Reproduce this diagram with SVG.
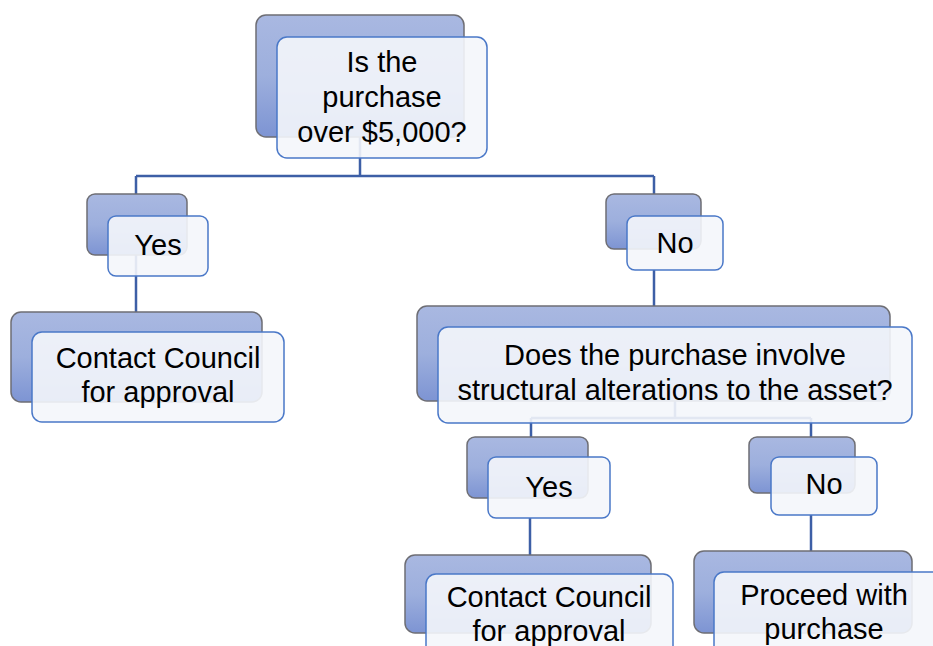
<svg xmlns="http://www.w3.org/2000/svg" width="933" height="646" viewBox="0 0 933 646">
<defs>
<linearGradient id="bg" x1="0" y1="0" x2="0" y2="1">
<stop offset="0" stop-color="#a9b8e1"/>
<stop offset="0.5" stop-color="#9dafdd"/>
<stop offset="1" stop-color="#7d94d3"/>
</linearGradient>
</defs>
<style>
.back{fill:url(#bg);stroke:#6e6e74;stroke-width:1.5}
.front{fill:#f4f6fb;fill-opacity:0.9;stroke:#4a78c8;stroke-width:1.5}
.conn{fill:none;stroke:#3d5fa6;stroke-width:2.5}
text{font-family:"Liberation Sans",Arial,sans-serif;font-size:29px;fill:#000;text-anchor:middle}
</style>
<rect width="933" height="646" fill="#ffffff"/>
<g id="connectors">
<path class="conn" d="M360,137 V176 M136,176 H654 M136,176 V195 M654,176 V195"/>
<path class="conn" d="M136,255 V313"/>
<path class="conn" d="M654,270 V306"/>
<path class="conn" d="M675,401 V418 M531,418 H811 M531,418 V438 M811,418 V438"/>
<path class="conn" d="M530,518 V556"/>
<path class="conn" d="M811,515 V552"/>
</g>
<g id="q1">
<rect class="back" x="256" y="15" width="208" height="122" rx="10"/>
<rect class="front" x="277" y="37" width="210" height="121" rx="10"/>
<text x="382" y="72">Is the</text>
<text x="382" y="107">purchase</text>
<text x="382" y="142">over $5,000?</text>
</g>
<g id="yes1">
<rect class="back" x="87" y="194" width="100" height="61" rx="8"/>
<rect class="front" x="108" y="216" width="100" height="60" rx="8"/>
<text x="158" y="255">Yes</text>
</g>
<g id="contact1">
<rect class="back" x="11" y="312" width="251" height="90" rx="10"/>
<rect class="front" x="32" y="332" width="252" height="90" rx="10"/>
<text x="158" y="368">Contact Council</text>
<text x="158" y="402">for approval</text>
</g>
<g id="no1">
<rect class="back" x="606" y="194" width="95" height="55" rx="8"/>
<rect class="front" x="627" y="216" width="96" height="54" rx="8"/>
<text x="675" y="253">No</text>
</g>
<g id="q2">
<rect class="back" x="417" y="306" width="473" height="95" rx="10"/>
<rect class="front" x="438" y="327" width="474" height="96" rx="10"/>
<text x="675" y="365">Does the purchase involve</text>
<text x="675" y="400">structural alterations to the asset?</text>
</g>
<g id="yes2">
<rect class="back" x="467" y="437" width="121" height="61" rx="8"/>
<rect class="front" x="488" y="457" width="122" height="61" rx="8"/>
<text x="549" y="497">Yes</text>
</g>
<g id="no2">
<rect class="back" x="749" y="437" width="106" height="56" rx="8"/>
<rect class="front" x="771" y="457" width="106" height="58" rx="8"/>
<text x="824" y="494">No</text>
</g>
<g id="contact2">
<rect class="back" x="405" y="555" width="246" height="78" rx="10"/>
<rect class="front" x="426" y="574" width="247" height="90" rx="10"/>
<text x="549" y="607">Contact Council</text>
<text x="549" y="641">for approval</text>
</g>
<g id="proceed">
<rect class="back" x="694" y="551" width="218" height="82" rx="10"/>
<rect class="front" x="714" y="572" width="230" height="90" rx="10"/>
<text x="824" y="605">Proceed with</text>
<text x="824" y="639">purchase</text>
</g>
</svg>
